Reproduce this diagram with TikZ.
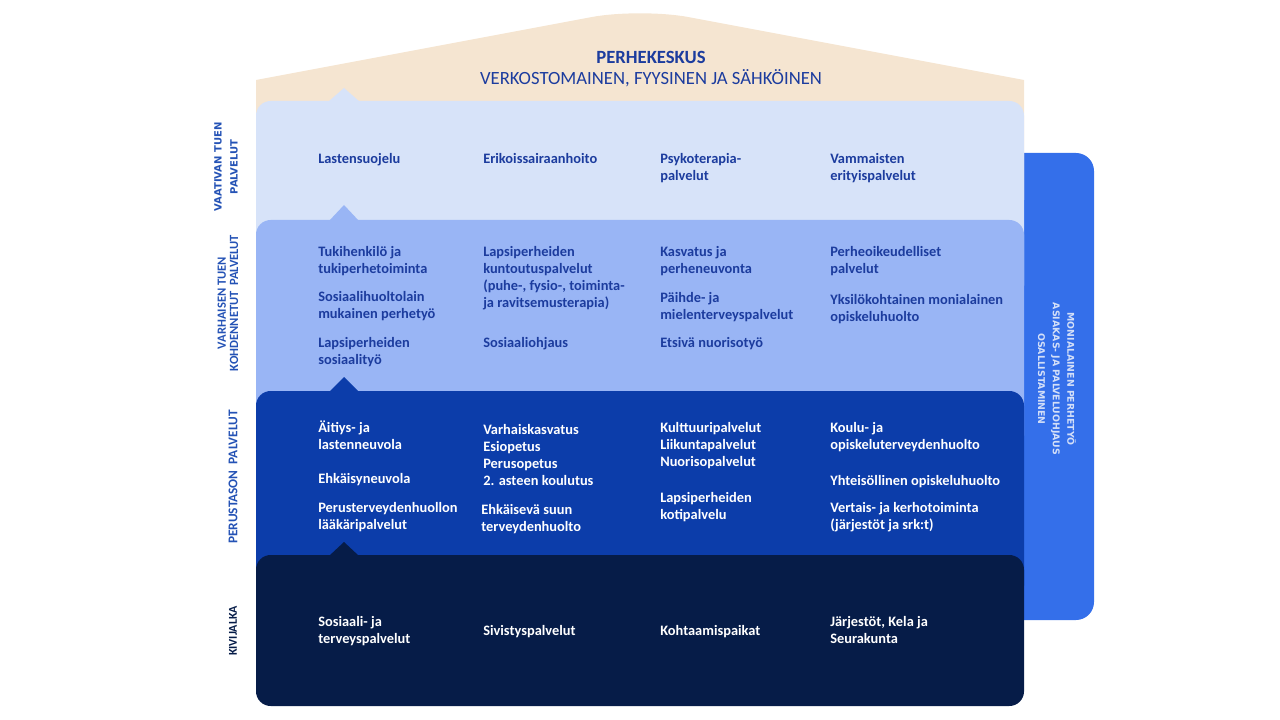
\documentclass[tikz,border=0pt]{standalone}
\usepackage{fontspec}
\setmainfont{Carlito}
\newfontfamily\widefont{DejaVu Sans}
\definecolor{roofc}{HTML}{F5E5D1}
\definecolor{bandA}{HTML}{D7E3F9}
\definecolor{bandB}{HTML}{99B5F5}
\definecolor{bandC}{HTML}{0C3DAA}
\definecolor{bandD}{HTML}{061C48}
\definecolor{barc}{HTML}{346FEA}
\definecolor{txtdark}{HTML}{1C3C9E}
\definecolor{lblblue}{HTML}{2452B5}
\definecolor{bartxt}{HTML}{D3DFF8}
\tikzset{
  item/.style={anchor=base west, inner sep=0pt, align=left, font=\fontsize{10.8}{12.75}\selectfont\bfseries},
  darkitem/.style={item, text=txtdark},
  lightitem/.style={item, text=white},
  sidelabel/.style={rotate=90, inner sep=0pt, align=center, text=lblblue},
  bandshape/.style={rounded corners=11pt},
}
\begin{document}
\begin{tikzpicture}[x=0.75pt,y=-0.75pt]
\useasboundingbox (0,0) rectangle (1280,720);
% right bar
\fill[barc, rounded corners=13.5pt] (990,153) rectangle (1094,620);
\node[rotate=-90, inner sep=0pt, align=center, text=bartxt, font=\fontsize{7}{11}\selectfont\widefont\bfseries] (bar) at (1057,379) {MONIALAINEN PERHETYÖ\\ASIAKAS- JA PALVELUOHJAUS\\OSALLISTAMINEN};
% roof
\fill[roofc] (256,200) -- (256,80) [rounded corners=37pt] -- (640,8) [sharp corners] -- (1024,80) -- (1024,200) -- cycle;
% band 1
\fill[bandA, bandshape] (256,101) rectangle (1024,300);
\fill[bandA] (328,102) -- (344,88) -- (360,102) -- cycle;
% band 2
\fill[bandB, bandshape] (256,220) rectangle (1024,450);
\fill[bandB] (329,221) -- (344,205) -- (359,221) -- cycle;
% band 3
\fill[bandC, bandshape] (256,391) rectangle (1024,600);
\fill[bandC] (329,392) -- (344,377) -- (359,392) -- cycle;
% band 4
\fill[bandD, bandshape] (256,555) rectangle (1024,706);
\fill[bandD] (329,556) -- (344,542) -- (359,556) -- cycle;

% roof titles
\node[inner sep=0pt, text=txtdark, font=\fontsize{14}{16}\selectfont\bfseries] (t1) at (651,57) {PERHEKESKUS};
\node[inner sep=0pt, text=txtdark, font=\fontsize{14}{16}\selectfont] (t2) at (651,78) {VERKOSTOMAINEN, FYYSINEN JA SÄHKÖINEN};

% side labels
\node[sidelabel, font=\fontsize{7.5}{12}\selectfont\widefont\bfseries] (l1) at (226,167) {VAATIVAN TUEN\\PALVELUT};
\node[sidelabel, font=\fontsize{9.4}{9.2}\selectfont\bfseries] (l2) at (228,303) {VARHAISEN TUEN\\KOHDENNETUT\ \ PALVELUT};
\node[sidelabel, font=\fontsize{10}{11}\selectfont\bfseries] (l3) at (233,477) {PERUSTASON\ \ PALVELUT};
\node[sidelabel, text=bandD, font=\fontsize{9}{11}\selectfont\bfseries] (l4) at (233,631) {KIVIJALKA};

% band 1 items
\node[darkitem] (a1) at (318,164) {Lastensuojelu};
\node[darkitem] (a2) at (483,164) {Erikoissairaanhoito};
\node[darkitem] (a3) at (660,181) {Psykoterapia-\\palvelut};
\node[darkitem] (a4) at (830,181) {Vammaisten\\erityispalvelut};

% band 2 items
\node[darkitem] (b1) at (318,273) {Tukihenkilö ja\\tukiperhetoiminta};
\node[darkitem] (b2) at (318,318) {Sosiaalihuoltolain\\mukainen perhetyö};
\node[darkitem] (b3) at (318,364) {Lapsiperheiden\\sosiaalityö};
\node[darkitem] (b4) at (483,307) {Lapsiperheiden\\kuntoutuspalvelut\\(puhe-, fysio-, toiminta-\\ja ravitsemusterapia)};
\node[darkitem] (b5) at (483,347) {Sosiaaliohjaus};
\node[darkitem] (b6) at (660,273) {Kasvatus ja\\perheneuvonta};
\node[darkitem] (b7) at (660,319) {Päihde- ja\\mielenterveyspalvelut};
\node[darkitem] (b8) at (660,347) {Etsivä nuorisotyö};
\node[darkitem] (b9) at (830,273) {Perheoikeudelliset\\palvelut};
\node[darkitem] (b10) at (830,321) {Yksilökohtainen monialainen\\opiskeluhuolto};

% band 3 items
\node[lightitem] (c1) at (318,449) {Äitiys- ja\\lastenneuvola};
\node[lightitem] (c2) at (318,483) {Ehkäisyneuvola};
\node[lightitem] (c3) at (318,529) {Perusterveydenhuollon\\lääkäripalvelut};
\node[lightitem] (c4) at (483,485) {Varhaiskasvatus\\Esiopetus\\Perusopetus\\2. asteen koulutus};
\node[lightitem] (c5) at (481,531) {Ehkäisevä suun\\terveydenhuolto};
\node[lightitem] (c6) at (660,466) {Kulttuuripalvelut\\Liikuntapalvelut\\Nuorisopalvelut};
\node[lightitem] (c7) at (660,519) {Lapsiperheiden\\kotipalvelu};
\node[lightitem] (c8) at (830,449) {Koulu- ja\\opiskeluterveydenhuolto};
\node[lightitem] (c9) at (830,485) {Yhteisöllinen opiskeluhuolto};
\node[lightitem] (c10) at (830,529) {Vertais- ja kerhotoiminta\\(järjestöt ja srk:t)};

% band 4 items
\node[lightitem] (d1) at (318,643) {Sosiaali- ja\\terveyspalvelut};
\node[lightitem] (d2) at (483,635) {Sivistyspalvelut};
\node[lightitem] (d3) at (660,635) {Kohtaamispaikat};
\node[lightitem] (d4) at (830,643) {Järjestöt, Kela ja\\Seurakunta};
\end{tikzpicture}
\end{document}
